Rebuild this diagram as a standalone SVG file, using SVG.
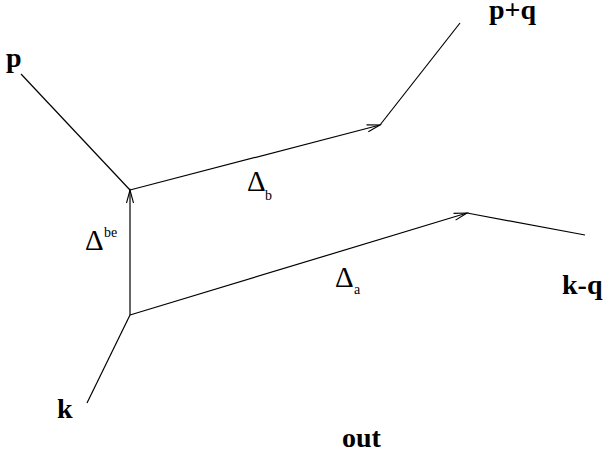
<svg xmlns="http://www.w3.org/2000/svg" width="606" height="455" viewBox="0 0 606 455">
<style>
.ln{stroke:#000;stroke-width:1.2;fill:none}
.lbl{font-family:"Liberation Serif","Times New Roman",serif;font-weight:bold;font-size:28px;fill:#000}
.dl{font-family:"Liberation Serif","Times New Roman",serif;font-size:29px;fill:#000}
.sub{font-family:"Liberation Serif","Times New Roman",serif;font-size:14px;fill:#000}
</style>
<defs>
<marker id="arr" markerUnits="userSpaceOnUse" markerWidth="16" markerHeight="10" viewBox="-14 -5 16 10" refX="0" refY="0" orient="auto">
<path d="M-13,-3.5 L0,0 L-13,3.5" fill="none" stroke="#000" stroke-width="1.1"/>
</marker>
</defs>
<g id="connectors">
<line class="ln" x1="21" y1="74" x2="130" y2="190"/>
<line class="ln" x1="130" y1="190" x2="380" y2="125" marker-end="url(#arr)"/>
<line class="ln" x1="380" y1="125" x2="460" y2="23"/>
<line class="ln" x1="130" y1="315" x2="130" y2="190" marker-end="url(#arr)"/>
<line class="ln" x1="130" y1="315" x2="467" y2="213" marker-end="url(#arr)"/>
<line class="ln" x1="467" y1="213" x2="585" y2="235"/>
<line class="ln" x1="130" y1="315" x2="87" y2="403"/>
</g>
<g id="label-p"><text class="lbl" x="6" y="67">p</text></g>
<g id="label-pq"><text class="lbl" x="489" y="19">p+q</text></g>
<g id="label-k"><text class="lbl" x="57" y="418">k</text></g>
<g id="label-kq"><text class="lbl" x="562" y="294">k-q</text></g>
<g id="label-out"><text class="lbl" x="342" y="447">out</text></g>
<g id="delta-be"><text class="dl" x="85" y="250">Δ</text><text class="sub" x="104" y="237">be</text></g>
<g id="delta-b"><text class="dl" x="247" y="191">Δ</text><text class="sub" x="265" y="200">b</text></g>
<g id="delta-a"><text class="dl" x="335" y="287">Δ</text><text class="sub" x="354" y="294">a</text></g>
</svg>
